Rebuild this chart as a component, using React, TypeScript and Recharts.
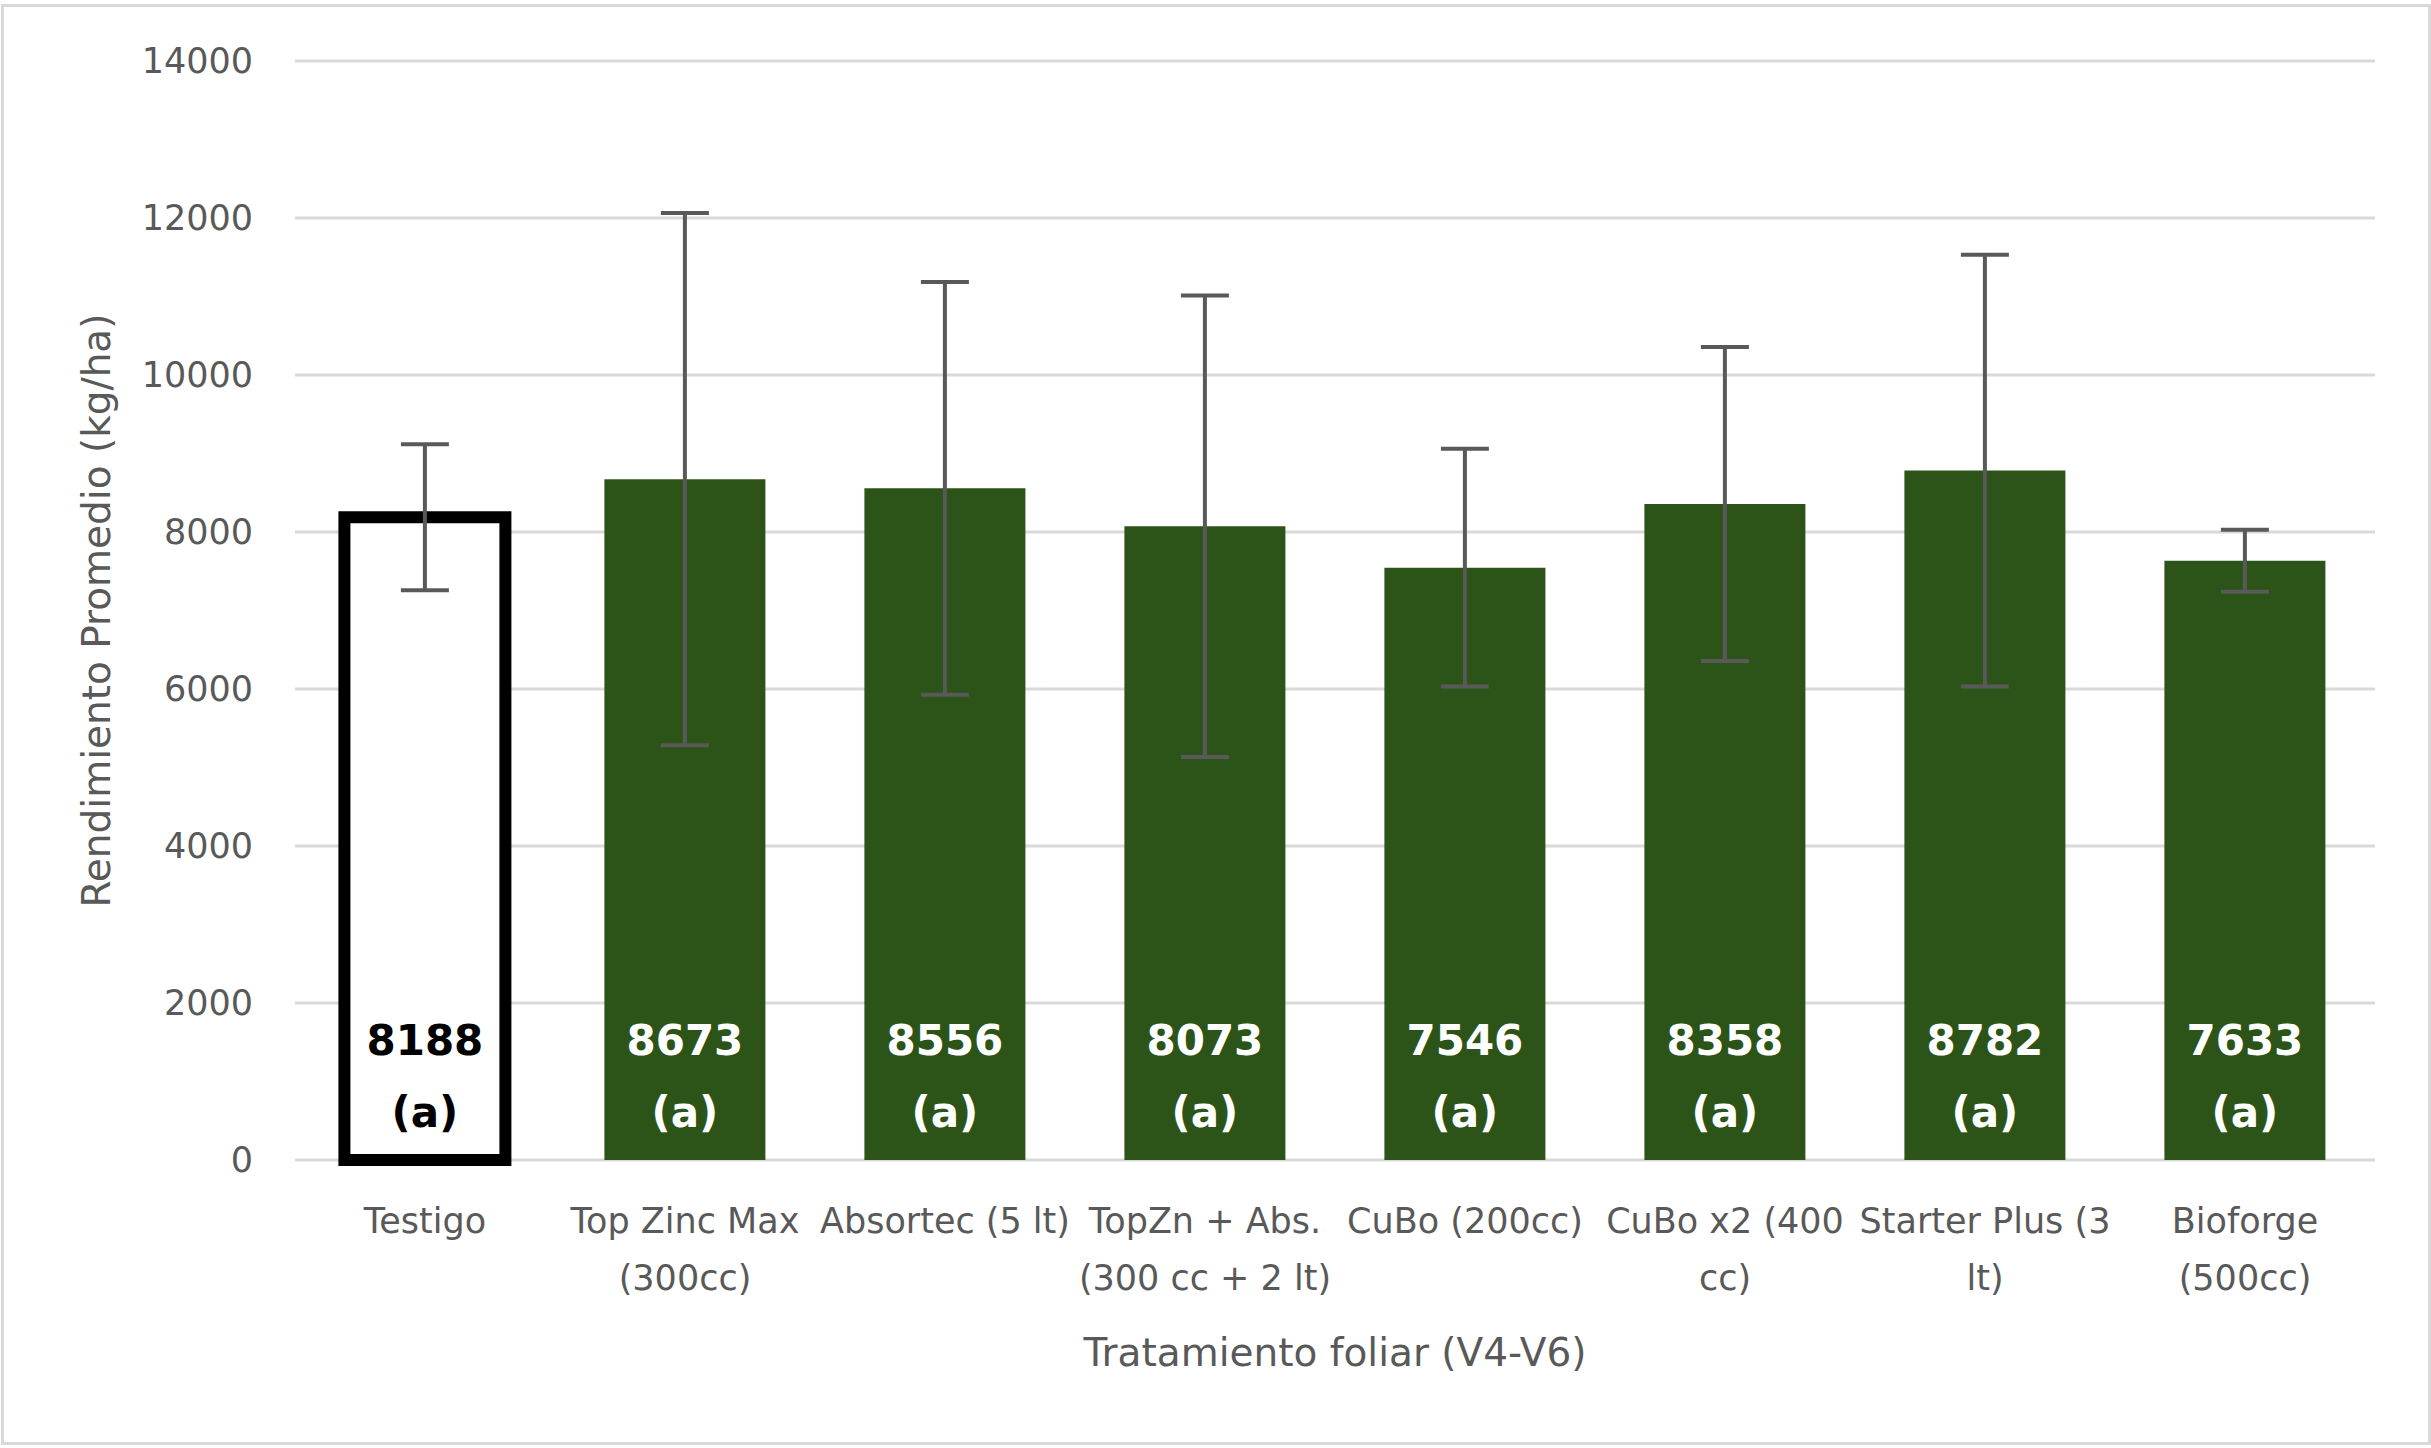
import { BarChart, Bar, XAxis, YAxis, CartesianGrid, ErrorBar, Cell, LabelList } from 'recharts'

const categorias = [
  'Testigo',
  'Top Zinc Max\n(300cc)',
  'Absortec (5 lt)',
  'TopZn + Abs.\n(300 cc + 2 lt)',
  'CuBo (200cc)',
  'CuBo x2 (400\ncc)',
  'Starter Plus (3\nlt)',
  'Bioforge\n(500cc)',
]
const rendimiento = [8188, 8673, 8556, 8073, 7546, 8358, 8782, 7633]
const desvio = [930, 3390, 2630, 2940, 1515, 2000, 2750, 395]
const letras = ['a', 'a', 'a', 'a', 'a', 'a', 'a', 'a']
const yTicks = [0, 2000, 4000, 6000, 8000, 10000, 12000, 14000]

const data = categorias.map((name, i) => ({
  name,
  value: rendimiento[i],
  err: desvio[i],
  letra: letras[i],
}))

const FONT = '"DejaVu Sans", sans-serif'
const GREEN = '#2C5418'
const GRAY = '#595959'

function CategoryTick(props: any) {
  const { x, y, payload } = props
  const lines = String(payload.value).split('\n')
  return (
    <text x={x} y={y} textAnchor="middle" fill={GRAY} fontSize={35} fontFamily={FONT}>
      {lines.map((l, i) => (
        <tspan key={i} x={x} dy={i === 0 ? 65 : 57}>{l}</tspan>
      ))}
    </text>
  )
}

function BarLabel(props: any) {
  const { x, y, width, height, index } = props
  const cx = x + width / 2
  const bottom = y + height
  const color = index === 0 ? '#000000' : '#FFFFFF'
  return (
    <text textAnchor="middle" fill={color} fontSize={42} fontWeight="bold" fontFamily={FONT}>
      <tspan x={cx} y={bottom - 105}>{rendimiento[index]}</tspan>
      <tspan x={cx} y={bottom - 33}>({letras[index]})</tspan>
    </text>
  )
}

function YTitle(props: any) {
  const { viewBox } = props
  const cx = viewBox.x + 96
  const cy = viewBox.y + viewBox.height / 2
  return (
    <text x={cx} y={cy} transform={`rotate(-90 ${cx} ${cy})`} textAnchor="middle" dominantBaseline="central"
      fill={GRAY} fontSize={39} fontFamily={FONT}>
      Rendimiento Promedio (kg/ha)
    </text>
  )
}

function XTitle(props: any) {
  const { viewBox } = props
  const cx = viewBox.x + viewBox.width / 2
  return (
    <text x={cx} y={viewBox.y + 206} textAnchor="middle" fill={GRAY} fontSize={39} fontFamily={FONT}>
      Tratamiento foliar (V4-V6)
    </text>
  )
}

export default function App() {
  return (
    <div style={{ position: 'absolute', left: 0, top: 0, width: 2431, height: 1448, background: '#fff' }}>
      <div style={{ position: 'absolute', left: 1, top: 4, width: 2424, height: 1435, border: '3px solid #D9D9D9' }} />
      <div style={{ position: 'absolute', left: 0, top: 0 }}>
        <BarChart
          width={2431}
          height={1448}
          data={data}
          margin={{ top: 61, right: 56, left: 0, bottom: 0 }}
          barCategoryGap="19%"
        >
          <CartesianGrid vertical={false} stroke="#D9D9D9" strokeWidth={3} />
          <XAxis
            dataKey="name"
            height={288}
            axisLine={false}
            tickLine={false}
            interval={0}
            tick={<CategoryTick />}
            label={<XTitle />}
          />
          <YAxis
            width={295}
            domain={[0, 14000]}
            ticks={yTicks}
            axisLine={false}
            tickLine={false}
            tickMargin={36}
            tick={{ fill: GRAY, fontSize: 35, fontFamily: FONT }}
            label={<YTitle />}
          />
          <Bar dataKey="value" isAnimationActive={false}>
            {data.map((d, i) => (
              <Cell
                key={d.name}
                fill={i === 0 ? '#FFFFFF' : GREEN}
                stroke={i === 0 ? '#000000' : 'none'}
                strokeWidth={i === 0 ? 12 : 0}
              />
            ))}
            <ErrorBar dataKey="err" direction="y" width={24} strokeWidth={4} stroke={GRAY} />
            <LabelList dataKey="value" content={<BarLabel />} />
          </Bar>
        </BarChart>
      </div>
    </div>
  )
}
